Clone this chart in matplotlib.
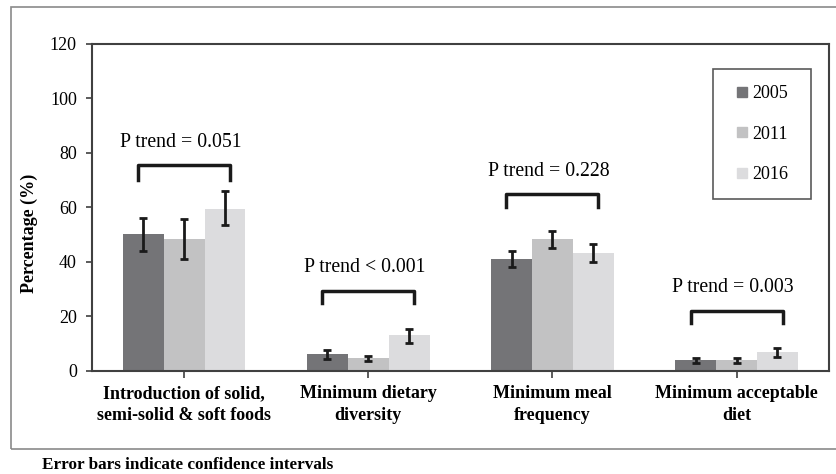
import numpy as np
import matplotlib
matplotlib.use("Agg")
import matplotlib.pyplot as plt
from matplotlib.patches import Rectangle
from matplotlib.lines import Line2D

plt.rcParams['font.family'] = 'Liberation Serif'

categories = ["Introduction of solid,\nsemi-solid & soft foods",
              "Minimum dietary\ndiversity",
              "Minimum meal\nfrequency",
              "Minimum acceptable\ndiet"]
years = ["2005", "2011", "2016"]
vals_2005 = [50.4, 6.3, 41.2, 4.0]
vals_2011 = [48.6, 4.8, 48.6, 4.0]
vals_2016 = [59.6, 13.2, 43.4, 7.0]
low_2005 = [44.2, 4.4, 38.3, 2.9]
high_2005 = [56.3, 7.7, 44.2, 4.8]
low_2011 = [41.2, 3.7, 45.3, 2.9]
high_2011 = [55.6, 5.5, 51.2, 4.8]
low_2016 = [53.4, 10.3, 40.1, 5.2]
high_2016 = [65.9, 15.5, 46.7, 8.5]
p_labels = ["P trend = 0.051", "P trend < 0.001", "P trend = 0.228", "P trend = 0.003"]
bracket_top = [75.4, 29.4, 64.8, 22.1]
bracket_drop = [5.5, 4.5, 4.8, 4.5]

colors = ["#747477", "#c2c2c3", "#dcdcde"]
series = [(vals_2005, low_2005, high_2005),
          (vals_2011, low_2011, high_2011),
          (vals_2016, low_2016, high_2016)]

fig = plt.figure(figsize=(8.37, 4.74), dpi=100)
ax = fig.add_axes([0.110, 0.2173, 0.880, 0.690])

x = np.arange(len(categories))
w = 0.222
for i, (v, lo, hi) in enumerate(series):
    v = np.array(v)
    err = [v - np.array(lo), np.array(hi) - v]
    ax.bar(x + (i - 1) * w, v, w, color=colors[i], zorder=2)
    ax.errorbar(x + (i - 1) * w, v, yerr=err, fmt='none', ecolor='#1a1a1a',
                elinewidth=2, capsize=3, capthick=2, zorder=3)

for i in range(len(categories)):
    top = bracket_top[i]
    bot = top - bracket_drop[i]
    ax.plot([x[i] - 0.25, x[i] - 0.25, x[i] + 0.25, x[i] + 0.25],
            [bot, top, top, bot], color='#1a1a1a', lw=2.5, zorder=3)
    ax.text(x[i] - 0.02, top + 8.5, p_labels[i], ha='center', va='center', fontsize=14.2)

ax.set_xlim(-0.5, 3.5)
ax.set_ylim(0, 120)
ax.set_yticks(np.arange(0, 121, 20))
ax.set_xticks(x)
ax.set_xticklabels(categories, fontweight='bold', fontsize=13, linespacing=1.4)
ax.tick_params(axis='y', labelsize=13, length=4, width=1.2, color='#404040', pad=7)
ax.tick_params(axis='x', length=5, width=1.2, color='#404040', pad=5)
for s in ax.spines.values():
    s.set_color('#404040')
    s.set_linewidth(1.5)
ax.set_ylabel("Percentage (%)", fontweight='bold', fontsize=13)
ax.yaxis.set_label_coords(-0.073, 0.42)

handles = [Line2D([], [], marker='s', markersize=7.5, linestyle='none', color=c) for c in colors]
leg = ax.legend(handles, years, loc='upper left',
                bbox_to_anchor=(0.8426, 0.5, (811 - 713) / 737, 0.4235), mode='expand',
                fontsize=13, frameon=True, fancybox=False, handlelength=1.44,
                handletextpad=-0.15, labelspacing=1.3, borderpad=0.9, borderaxespad=0)
leg.get_frame().set_edgecolor('#303030')
leg.get_frame().set_linewidth(1.2)

fig.patches.append(Rectangle((11 / 837, 1 - 449 / 474), 1.0, (449 - 7) / 474,
                             transform=fig.transFigure, fill=False,
                             edgecolor='#8a8a8a', lw=1.2))
fig.text(42 / 837, 1 - 465 / 474, "Error bars indicate confidence intervals",
         fontweight='bold', fontsize=12.3, va='center', ha='left')

fig.savefig("out.png", dpi=100)
